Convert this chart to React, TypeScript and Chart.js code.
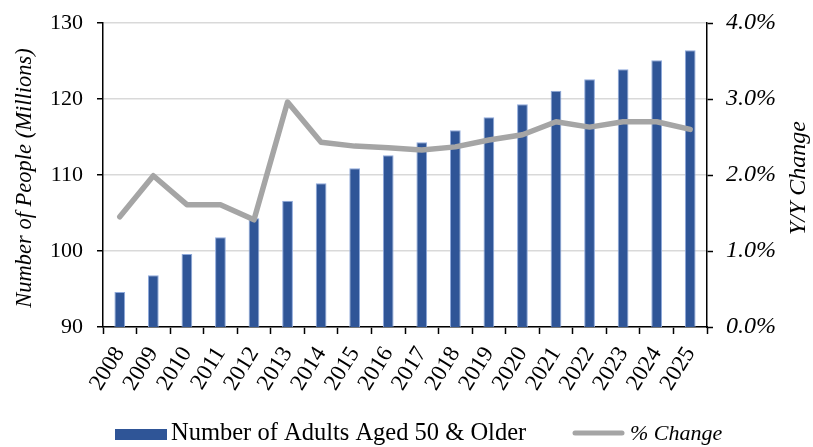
import React, { useEffect, useRef } from "react";
import { Chart, registerables } from "chart.js";

Chart.register(...registerables);

const years = ["2008","2009","2010","2011","2012","2013","2014","2015","2016","2017","2018","2019","2020","2021","2022","2023","2024","2025"];
const adults = [94.6, 96.8, 99.6, 101.8, 104.3, 106.6, 108.9, 110.9, 112.6, 114.3, 115.9, 117.6, 119.3, 121.1, 122.6, 123.9, 125.1, 126.4];
const pctChange = [1.45, 1.99, 1.61, 1.61, 1.41, 2.96, 2.43, 2.38, 2.36, 2.33, 2.37, 2.46, 2.53, 2.7, 2.63, 2.7, 2.7, 2.6];
const leftTitle = "Number of People (Millions)";
const rightTitle = "Y/Y Change";
const barLabel = "Number of Adults Aged 50 & Older";
const lineLabel = "% Change";

const FONT = "'Liberation Serif', 'Times New Roman', serif";
const BLUE = "#2F5597";
const GREY = "#A5A5A5";

const overlay = {
  id: "overlay",
  afterDraw(chart: any) {
    const { ctx, chartArea } = chart;
    const midY = (chartArea.top + chartArea.bottom) / 2 + 3;
    ctx.save();
    ctx.fillStyle = "#000";
    ctx.textAlign = "center";
    ctx.textBaseline = "middle";
    ctx.save();
    ctx.font = `italic 22.5px ${FONT}`;
    ctx.translate(25, midY);
    ctx.rotate(-Math.PI / 2);
    ctx.fillText(leftTitle, 0, 0);
    ctx.restore();
    ctx.save();
    ctx.font = `italic 24px ${FONT}`;
    ctx.translate(799, midY);
    ctx.rotate(-Math.PI / 2);
    ctx.fillText(rightTitle, 0, 0);
    ctx.restore();
    // legend
    const ly = 434;
    ctx.fillStyle = BLUE;
    ctx.fillRect(115, 429, 52, 11);
    ctx.fillStyle = "#000";
    ctx.textAlign = "left";
    ctx.font = `24.5px ${FONT}`;
    ctx.fillText(barLabel, 171, ly);
    ctx.strokeStyle = GREY;
    ctx.lineWidth = 5;
    ctx.lineCap = "round";
    ctx.beginPath();
    ctx.moveTo(575, ly - 1);
    ctx.lineTo(622, ly - 1);
    ctx.stroke();
    ctx.font = `italic 22px ${FONT}`;
    ctx.fillText(lineLabel, 630, ly);
    ctx.restore();
  },
};

export default function App() {
  const ref = useRef<HTMLCanvasElement | null>(null);
  useEffect(() => {
    document.body.style.margin = "0";
    const canvas = ref.current!;
    const chart = new Chart(canvas, {
      type: "bar",
      data: {
        labels: years,
        datasets: [
          {
            type: "line",
            label: lineLabel,
            data: pctChange,
            yAxisID: "y1",
            borderColor: GREY,
            backgroundColor: GREY,
            borderWidth: 5.5,
            pointRadius: 0,
            tension: 0,
            order: 0,
            borderJoinStyle: "round",
            borderCapStyle: "round",
          } as any,
          {
            type: "bar",
            label: barLabel,
            data: adults,
            yAxisID: "y",
            backgroundColor: BLUE,
            borderColor: "#8EA9DB",
            borderWidth: { top: 1, left: 1, right: 1, bottom: 0 },
            barPercentage: 0.32,
            categoryPercentage: 1,
            order: 1,
          } as any,
        ],
      },
      options: {
        animation: false,
        responsive: false,
        layout: { padding: { top: 23, left: 0, right: 0, bottom: 0 } },
        plugins: { legend: { display: false }, tooltip: { enabled: false } },
        scales: {
          x: {
            offset: true,
            grid: { drawOnChartArea: false, offset: true, tickLength: 7, tickColor: "#000", tickWidth: 1.5 },
            border: { color: "#000", width: 1.5 },
            ticks: {
              autoSkip: false,
              minRotation: 58,
              maxRotation: 58,
              padding: 8,
              color: "#000",
              font: { family: FONT, size: 23 },
            },
            afterFit: (s: any) => { s.height = 120; s.paddingLeft = 0; s.paddingRight = 0; },
          },
          y: {
            position: "left",
            min: 90,
            max: 130,
            ticks: { stepSize: 10, padding: 14, color: "#000", font: { family: FONT, size: 22 } },
            grid: { color: "#D9D9D9", lineWidth: 1.5, tickColor: "#000", tickLength: 6, tickWidth: 1.5 },
            border: { color: "#000", width: 1.5 },
            afterFit: (s: any) => { s.width = 103; s.paddingTop = 0; s.paddingBottom = 0; },
          },
          y1: {
            position: "right",
            min: 0,
            max: 4,
            ticks: {
              stepSize: 1,
              padding: 13,
              color: "#000",
              font: { family: FONT, size: 24, style: "italic" },
              callback: (v: any) => Number(v).toFixed(1) + "%",
            },
            grid: { drawOnChartArea: false, tickColor: "#000", tickLength: 6, tickWidth: 1.5 },
            border: { color: "#000", width: 1.5 },
            afterFit: (s: any) => { s.width = 106; s.paddingTop = 0; s.paddingBottom = 0; },
          },
        },
      },
      plugins: [overlay],
    });
    return () => chart.destroy();
  }, []);
  return (
    <div style={{ width: 813, height: 447, position: "relative" }}>
      <canvas ref={ref} width={813} height={447} style={{ display: "block" }} />
    </div>
  );
}
